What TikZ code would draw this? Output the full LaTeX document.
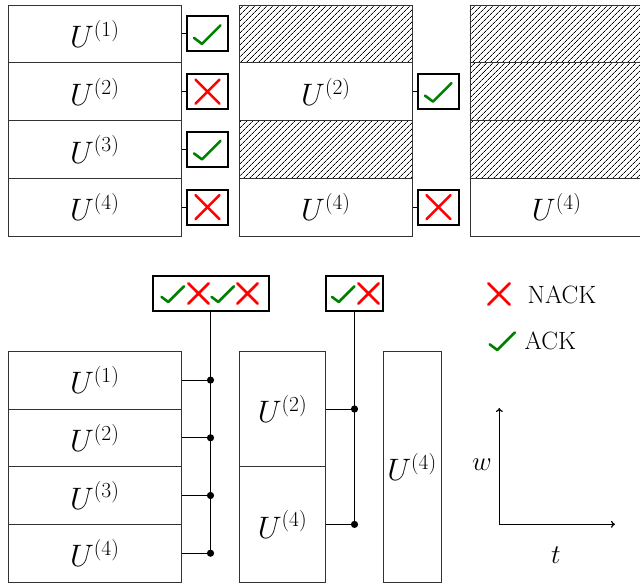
\documentclass[tikz,border=0pt]{standalone}
\usepackage{fix-cm}
\DeclareMathSizes{31}{31}{21.5}{16}
\usetikzlibrary{patterns.meta,arrows.meta}
\definecolor{ackgreen}{RGB}{0,128,0}
\definecolor{nackred}{RGB}{255,0,0}
\begin{document}
\begin{tikzpicture}[x=1pt,y=-1pt,
  cell/.style={draw=black!80, line width=0.8pt, inner sep=0pt, minimum width=173.5pt, minimum height=57.75pt, font=\fontsize{31}{36}\selectfont},
  hatched/.style={cell, pattern={Lines[angle=45,distance=4pt,line width=0.75pt]}},
  fbbox/.style={draw=black, line width=2pt, inner sep=0pt, minimum height=35pt},
  link/.style={draw=black, line width=1pt},
  dot/.style={fill=black},
  legendtxt/.style={font=\fontsize{25}{29}\selectfont, inner sep=0pt, anchor=west},
  pics/ack/.style={code={\draw[ackgreen, line width=2.6pt, line cap=round, line join=round] (-13.5,4) -- (-5.5,10) -- (13,-8.5);}},
  pics/nack/.style={code={\draw[nackred, line width=2.6pt, line cap=round] (-12,-12) -- (12,12) (-12,12) -- (12,-12);}},
  axis/.style={line width=1.2pt, -{To[length=4pt,width=7pt]}}
]
\useasboundingbox (0,0) rectangle (640,583);
\clip (0,0) rectangle (640,583);

% ---------- top row ----------
% column A
\node[cell] (a1) at (94.75,33.9) {$U^{(1)}$};
\node[cell] (a2) at (94.75,91.6) {$U^{(2)}$};
\node[cell] (a3) at (94.75,149.4) {$U^{(3)}$};
\node[cell] (a4) at (94.75,207.1) {$U^{(4)}$};
% column B
\node[hatched] (b1) at (325.9,33.9) {};
\node[cell] (b2) at (325.9,91.6) {$U^{(2)}$};
\node[hatched] (b3) at (325.9,149.4) {};
\node[cell] (b4) at (325.9,207.1) {$U^{(4)}$};
% column C
\node[hatched] (c1) at (556.7,33.9) {};
\node[hatched] (c2) at (556.7,91.6) {};
\node[hatched] (c3) at (556.7,149.4) {};
\node[cell] (c4) at (556.7,207.1) {$U^{(4)}$};

% feedback boxes top
\node[fbbox, minimum width=41.5pt] (fa1) at (207.5,33.9) {};
\node[fbbox, minimum width=41.5pt] (fa2) at (207.5,91.6) {};
\node[fbbox, minimum width=41.5pt] (fa3) at (207.5,149.4) {};
\node[fbbox, minimum width=41.5pt] (fa4) at (207.5,207.1) {};
\node[fbbox, minimum width=41.5pt] (fb2) at (438.5,91.6) {};
\node[fbbox, minimum width=41.5pt] (fb4) at (438.5,207.1) {};
\pic at (fa1) {ack};
\pic at (fa2) {nack};
\pic at (fa3) {ack};
\pic at (fa4) {nack};
\pic at (fb2) {ack};
\pic at (fb4) {nack};
\draw[link] (a1.east) -- (fa1.west);
\draw[link] (a2.east) -- (fa2.west);
\draw[link] (a3.east) -- (fa3.west);
\draw[link] (a4.east) -- (fa4.west);
\draw[link] (b2.east) -- (fb2.west);
\draw[link] (b4.east) -- (fb4.west);

% ---------- bottom row ----------
\node[cell] (d1) at (94.75,380.1) {$U^{(1)}$};
\node[cell] (d2) at (94.75,437.8) {$U^{(2)}$};
\node[cell] (d3) at (94.75,495.5) {$U^{(3)}$};
\node[cell] (d4) at (94.75,553.2) {$U^{(4)}$};
\node[cell, minimum width=86.5pt, minimum height=115.4pt] (e2) at (282.5,409) {$U^{(2)}$};
\node[cell, minimum width=86.5pt, minimum height=115.4pt] (e4) at (282.5,524.4) {$U^{(4)}$};
\node[cell, minimum width=58pt, minimum height=230.8pt] (g4) at (412,466.7) {$U^{(4)}$};

\node[fbbox, minimum width=116pt] (fbig) at (210.5,293.5) {};
\pic[scale=0.85] at ([xshift=-37.5pt]fbig.center) {ack};
\pic[scale=0.85] at ([xshift=-12pt]fbig.center) {nack};
\pic[scale=0.85] at ([xshift=12.5pt]fbig.center) {ack};
\pic[scale=0.85] at ([xshift=37pt]fbig.center) {nack};
\node[fbbox, minimum width=57.6pt] (fsmall) at (354.5,293.5) {};
\pic[scale=0.85] at ([xshift=-11pt]fsmall.center) {ack};
\pic[scale=0.85] at ([xshift=14pt]fsmall.center) {nack};

\coordinate (j1) at (d1.east -| fbig.south);
\coordinate (j2) at (d2.east -| fbig.south);
\coordinate (j3) at (d3.east -| fbig.south);
\coordinate (j4) at (d4.east -| fbig.south);
\coordinate (k2) at (e2.east -| fsmall.south);
\coordinate (k4) at (e4.east -| fsmall.south);
\draw[link] (fbig.south) -- (j4);
\draw[link] (fsmall.south) -- (k4);
\foreach \r/\j in {d1/j1,d2/j2,d3/j3,d4/j4,e2/k2,e4/k4}{
  \draw[link] (\r.east) -- (\j);
  \fill[dot] (\j) circle (3.6pt);
}

% ---------- legend ----------
\pic[scale=0.9] (lnack) at (499,294) {nack};
\node[legendtxt] (nacktxt) at (527.5,295) {NACK};
\pic[scale=0.95] (lack) at (502.5,340.5) {ack};
\node[legendtxt] (acktxt) at (524.5,341) {ACK};

% ---------- axes ----------
\coordinate (o) at (499.3,524.3);
\coordinate (wtip) at (499.3,408);
\coordinate (ttip) at (615,524.3);
\draw[axis] (o) -- (wtip);
\draw[axis] (o) -- (ttip);
\node[font=\fontsize{27}{32}\selectfont] (wlab) at (482,465) {$w$};
\node[font=\fontsize{27}{32}\selectfont] (tlab) at (556,555) {$t$};
\end{tikzpicture}
\end{document}
